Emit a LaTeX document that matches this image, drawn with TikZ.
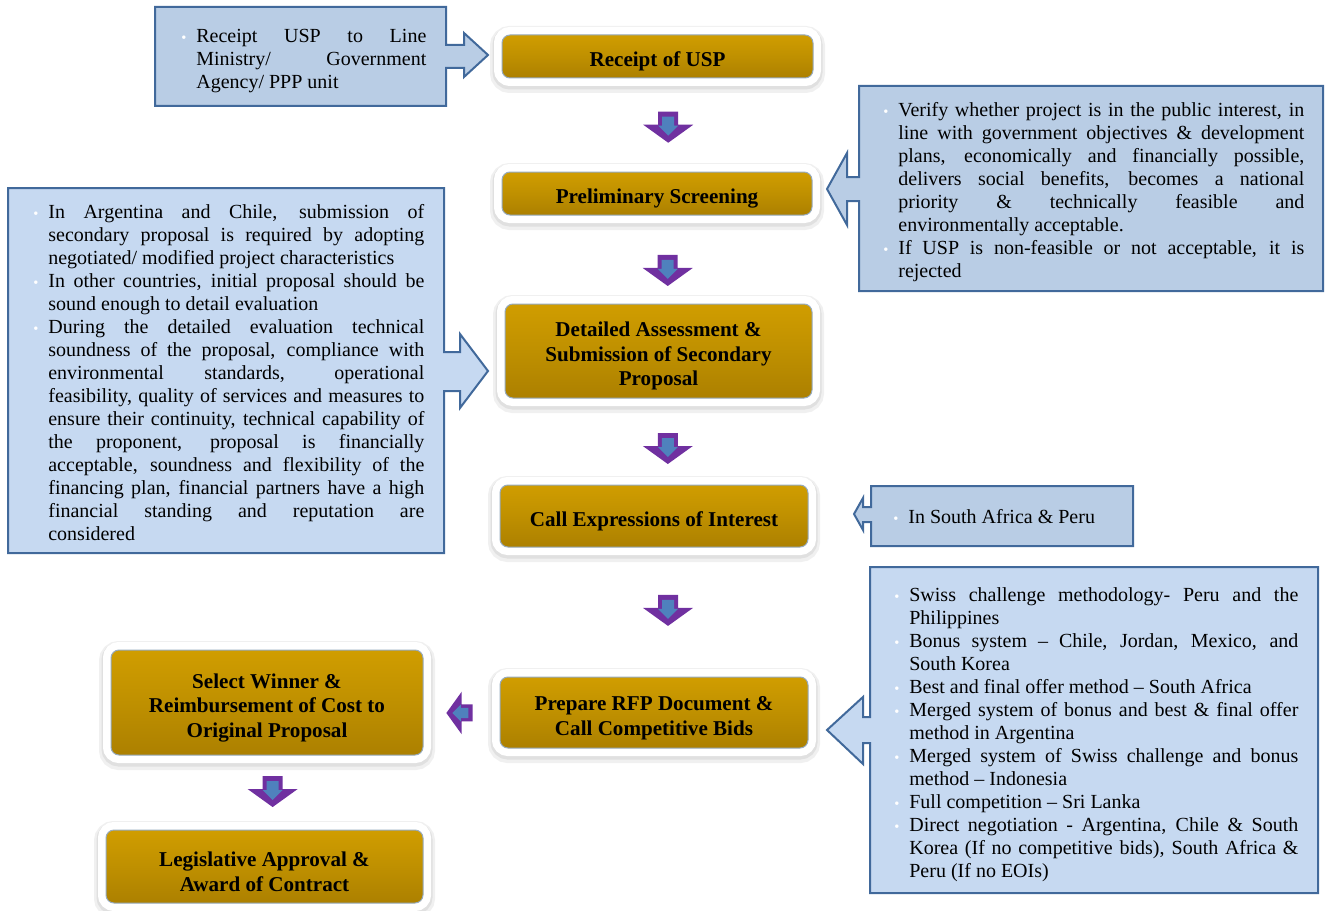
\documentclass[tikz,border=0pt]{standalone}
\usepackage{fontspec}
\setmainfont{Liberation Serif}
\usepackage{tikz}
\usetikzlibrary{calc}

\newdimen\px
\px=0.55pt
\tolerance=9999
\hbadness=10000
\hyphenpenalty=10000

\definecolor{goldtop}{RGB}{208,157,0}
\definecolor{goldmid}{RGB}{191,144,0}
\definecolor{goldbot}{RGB}{172,128,0}
\definecolor{goldrim}{RGB}{150,170,190}
\definecolor{notefill}{RGB}{198,217,241}
\definecolor{notefilldark}{RGB}{185,205,229}
\definecolor{noteline}{RGB}{65,105,155}
\definecolor{arrowpurple}{RGB}{112,48,160}
\definecolor{arrowblue}{RGB}{79,129,189}

\newcommand{\bitem}{\par\noindent\hangindent=15\px\hangafter=1\makebox[15\px][l]{\textcolor{white}{\footnotesize\textbullet}}}

\tikzstyle{stepbox}=[rectangle, rounded corners=8\px, draw=goldrim, line width=1\px, top color=goldtop, bottom color=goldbot, middle color=goldmid, align=center, inner sep=0pt, font=\fontsize{11.6}{13.5}\selectfont\bfseries, preaction={draw=black!6, line width=24\px, transform canvas={yshift=-3\px}}, preaction={draw=black!12, line width=19\px, transform canvas={yshift=-2\px}}, preaction={draw=white, line width=16\px}]
\tikzstyle{note}=[draw=noteline, line width=2\px, fill=notefill]
\tikzstyle{notedark}=[note, fill=notefilldark]
\tikzstyle{notetext}=[anchor=north west, inner sep=0pt, align=justify, font=\fontsize{11}{12.65}\selectfont]

\tikzset{darrow/.pic={
  \fill[arrowpurple] (-10,-16) -- (10,-16) -- (10,-3) -- (25,-3) -- (0,15) -- (-25,-3) -- (-10,-3) -- cycle;
  \fill[arrowblue] (-6,-11) -- (6,-11) -- (6,-2) -- (10,-2) -- (0,8) -- (-10,-2) -- (-6,-2) -- cycle;
}}

\begin{document}
\begin{tikzpicture}[x=1\px, y=-1\px]

    \fill[white] (0,0) rectangle (1326,911);
    \useasboundingbox (0,0) rectangle (1326,911);

    % Draw the callouts first
    \path[notedark] (155,7) -- (446,7) -- (446,45) -- (464,45) -- (464,33) -- (488,55) -- (464,77) -- (464,68) -- (446,68) -- (446,106) -- (155,106) -- cycle;
    \path[notedark] (859,86) -- (1323,86) -- (1323,291) -- (859,291) -- (859,201) -- (847,201) -- (847,225) -- (827,189) -- (847,153) -- (847,177) -- (859,177) -- cycle;
    \path[note] (8,188) -- (444,188) -- (444,352) -- (460,352) -- (460,334) -- (488,371) -- (460,408) -- (460,391) -- (444,391) -- (444,553) -- (8,553) -- cycle;
    \path[notedark] (871,486) -- (1133,486) -- (1133,546) -- (871,546) -- (871,522) -- (863,522) -- (863,530) -- (854,514) -- (863,498) -- (863,507) -- (871,507) -- cycle;
    \path[note] (870,567) -- (1318,567) -- (1318,893) -- (870,893) -- (870,743) -- (863,743) -- (863,764) -- (827,730) -- (863,697) -- (863,717) -- (870,717) -- cycle;

    % Then the callout texts
    \node[notetext, text width=245\px] (T1) at (181,19.5) {\bitem Receipt USP to Line \linebreak Ministry/ Government \linebreak Agency/ PPP unit\par};
    \node[notetext, text width=421\px] (T2) at (883,93.5) {\bitem Verify whether project is in the public interest, in \linebreak line with government objectives \& development \linebreak plans, economically and financially possible, \linebreak delivers social benefits, becomes a national \linebreak priority \& technically feasible and \linebreak environmentally acceptable.
      \bitem If USP is non-feasible or not acceptable, it is \linebreak rejected\par};
    \node[notetext, text width=391\px] (T3) at (33,195.5) {\bitem In Argentina and Chile, submission of \linebreak secondary proposal is required by adopting \linebreak negotiated/ modified project characteristics
      \bitem In other countries, initial proposal should be \linebreak sound enough to detail evaluation
      \bitem During the detailed evaluation technical \linebreak soundness of the proposal, compliance with \linebreak environmental standards, operational \linebreak feasibility, quality of services and measures to \linebreak ensure their continuity, technical capability of \linebreak the proponent, proposal is financially \linebreak acceptable, soundness and flexibility of the \linebreak financing plan, financial partners have a high \linebreak financial standing and reputation are \linebreak considered\par};
    \node[notetext, text width=220\px] (T4) at (893,500.5) {\bitem In South Africa \& Peru\par};
    \node[notetext, text width=404\px] (T5) at (894,578.5) {\bitem Swiss challenge methodology- Peru and the \linebreak Philippines
      \bitem Bonus system -- Chile, Jordan, Mexico, and \linebreak South Korea
      \bitem Best and final offer method -- South Africa
      \bitem Merged system of bonus and best \& final offer \linebreak method in Argentina
      \bitem Merged system of Swiss challenge and bonus \linebreak method -- Indonesia
      \bitem Full competition -- Sri Lanka
      \bitem Direct negotiation - Argentina, Chile \& South \linebreak Korea (If no competitive bids), South Africa \& \linebreak Peru (If no EOIs)\par};

    % Now the steps
    \foreach \pos/\name/\w/\h/\label in {{(657.5,56.5)/S1/311/43/Receipt of USP}, {(657,193.5)/S2/310/43/Preliminary Screening}, {(658.5,351)/S3/307/94/Detailed Assessment \&\\ Submission of Secondary\\ Proposal}, {(654,516)/S4/308/62/Call Expressions of Interest}, {(654,712.5)/S5/308/71/Prepare RFP Document \&\\ Call Competitive Bids}, {(267,702.5)/S6/312/105/Select Winner \&\\ Reimbursement of Cost to\\ Original Proposal}, {(264.5,866.5)/S7/317/73/Legislative Approval \&\\ Award of Contract}}
        \node[stepbox, minimum width=\w\px, minimum height=\h\px] (\name) at \pos {\rule{0pt}{25\px}\label};

    % Block arrows between the steps
    \foreach \a/\b/\p/\dx/\dy/\r/\s in {S1/S2/.52/11/0/0/1, S2/S3/.492/10/0/0/1, S3/S4/.594/12/0/0/1, S4/S5/.483/14/0/0/1, S5/S6/.501/-1/5.5/-90/.85, S6/S7/.546/7/0/0/1}
        \pic[rotate=\r, scale=\s] at ($(\a)!\p!(\b)+(\dx,\dy)$) {darrow};

\end{tikzpicture}
\end{document}
